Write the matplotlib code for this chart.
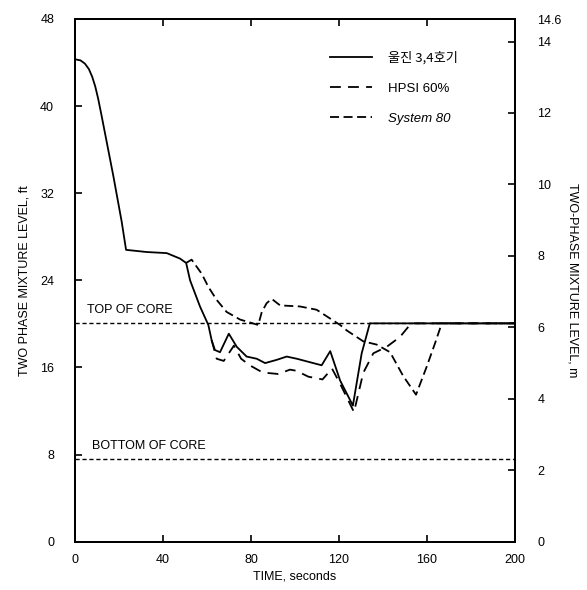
import matplotlib
matplotlib.use('Agg')
import matplotlib.pyplot as plt

plt.rcParams['font.family'] = ['Liberation Sans', 'Noto Sans CJK KR', 'DejaVu Sans']

# 울진 3,4호기 (solid)
t_uljin = [0, 2.5, 4.5, 6.3, 7.8, 9.2, 10.5, 12, 17.4, 21.2, 23.2, 32.6, 41.7, 47.7, 50.5, 52.3,
           56.8, 60.6, 62.1, 63.6, 65.9, 69.9, 73.5, 78, 82.6, 86.4, 91.7, 96.2, 100.8,
           108.3, 112.1, 116, 120.5, 126.3, 130.3, 134, 200]
h_uljin = [44.3, 44.2, 43.9, 43.4, 42.7, 41.8, 40.7, 39.2, 33.6, 29.4, 26.8, 26.6, 26.5, 26.0, 25.6, 24.0,
           21.6, 19.9, 18.5, 17.6, 17.4, 19.1, 17.9, 17.0, 16.8, 16.4, 16.7, 17.0, 16.8,
           16.4, 16.2, 17.5, 14.8, 12.5, 17.3, 20.05, 20.05]

# HPSI 60%
t_hpsi = [62.1, 64.4, 67.6, 72.2, 75.5, 79.4, 84.7, 87.1, 92.4, 97.7, 100.5, 106.1, 112.5,
          116.8, 120.5, 126.8, 131, 135.6, 141.7, 147.7, 152.8, 200]
h_hpsi = [18.5, 16.8, 16.6, 18.0, 16.8, 16.2, 15.6, 15.5, 15.4, 15.8, 15.7, 15.15, 14.9,
          15.9, 14.5, 11.9, 15.5, 17.3, 17.9, 18.8, 20.05, 20.05]

# System 80
t_sys80 = [50.5, 53, 57.6, 60.6, 64.4, 68.9, 75, 83.3, 84.9, 87.1, 89.4, 93.2, 102.3, 109.8,
           115.9, 120.5, 123.5, 131, 137.1, 143.2, 149.2, 155, 159.9, 163.6, 166.7, 200]
h_sys80 = [25.6, 25.9, 24.6, 23.4, 22.2, 21.1, 20.4, 19.9, 21.1, 21.9, 22.3, 21.7, 21.6, 21.3,
           20.5, 19.9, 19.4, 18.4, 18.1, 17.4, 15.2, 13.5, 16.1, 18.2, 20.05, 20.05]

top_core = 20.1
bottom_core = 7.6

x_ticks = [0, 40, 80, 120, 160, 200]
y_ticks_ft = [0, 8, 16, 24, 32, 40, 48]
y_ticks_m = [0, 2, 4, 6, 8, 10, 12, 14, 14.63]
y_labels_m = ['0', '2', '4', '6', '8', '10', '12', '14', '14.6']

fig = plt.figure(figsize=(5.87, 5.90), dpi=100)
ax = fig.add_axes([0.1278, 0.0819, 0.7496, 0.8859])

ax.plot(t_uljin, h_uljin, color='black', lw=1.3, label='울진 3,4호기')
ax.plot(t_hpsi, h_hpsi, color='black', lw=1.3, ls=(0, (6, 4)), label='HPSI 60%')
ax.plot(t_sys80, h_sys80, color='black', lw=1.3, ls=(0, (5, 2.5)), label='System 80')

ax.axhline(top_core, color='black', lw=1.0, ls=(0, (3, 2)))
ax.axhline(bottom_core, color='black', lw=1.0, ls=(0, (3, 2)))
ax.text(5.3, top_core + 0.6, 'TOP OF CORE', fontsize=9, va='bottom', ha='left')
ax.text(7.6, bottom_core + 0.6, 'BOTTOM OF CORE', fontsize=9, va='bottom', ha='left')

ax.set_xlim(0, 200)
ax.set_ylim(0, 48)
ax.set_xticks(x_ticks)
ax.set_yticks(y_ticks_ft)
ax.tick_params(direction='in', length=5, width=1.2, labelsize=9, top=True)
ax.tick_params(axis='x', pad=9)
ax.tick_params(axis='y', pad=15)
ax.set_xlabel('TIME, seconds', fontsize=9, labelpad=3)
ax.set_ylabel('TWO PHASE MIXTURE LEVEL, ft', fontsize=9, labelpad=7)
for s in ax.spines.values():
    s.set_linewidth(1.4)

ax2 = ax.twinx()
ax2.set_ylim(0, 48 * 0.3048)
ax2.set_yticks(y_ticks_m)
ax2.set_yticklabels(y_labels_m)
ax2.tick_params(direction='in', length=5, width=1.2, labelsize=9, pad=16)
ax2.yaxis.get_major_ticks()[-1].tick2line.set_visible(False)
ax2.set_ylabel('TWO-PHASE MIXTURE LEVEL, m', fontsize=9, rotation=-90, labelpad=12)
for s in ax2.spines.values():
    s.set_linewidth(1.4)

leg = ax.legend(loc='upper left', bbox_to_anchor=(0.58, 0.938), frameon=False, fontsize=9.5,
                handlelength=3.2, labelspacing=1.35, handletextpad=1.2,
                borderpad=0, borderaxespad=0)
leg.get_texts()[0].set_family(['Noto Sans CJK KR', 'DejaVu Sans'])
leg.get_texts()[2].set_style('italic')

fig.savefig('out.png', dpi=100)
